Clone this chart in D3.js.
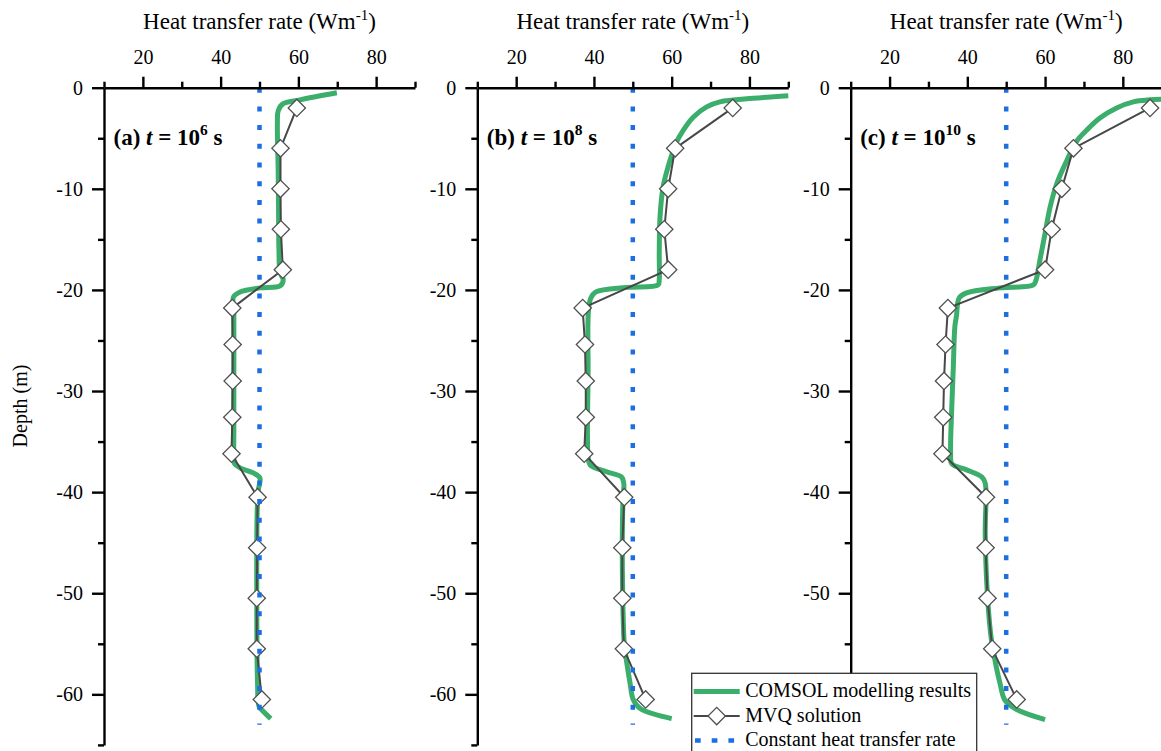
<!DOCTYPE html>
<html>
<head>
<meta charset="utf-8">
<script src="https://cdn.jsdelivr.net/npm/d3@7"></script>
<style>
  html, body { margin: 0; padding: 0; background: #fff; }
  svg { display: block; }
</style>
</head>
<body>
<svg id="chart" width="1161" height="751"></svg>
<script>
// ---- data ---------------------------------------------------------------
// Depth (m) of the MVQ segment midpoints (shared by all three panels)
const mvqDepth = [-2, -6, -10, -14, -18, -21.8, -25.4, -29, -32.6, -36.2, -40.5, -45.5, -50.5, -55.5, -60.5];
// MVQ heat transfer rate (W/m) at t = 1e6, 1e8, 1e10 s
const mvqA = [59.6, 55.4, 55.4, 55.5, 56.0, 43.0, 43.1, 43.1, 43.0, 42.8, 49.5, 49.4, 49.3, 49.3, 50.6];
const mvqB = [75.7, 60.9, 59.1, 58.1, 59.1, 37.1, 37.7, 37.9, 37.9, 37.5, 47.8, 47.3, 47.3, 47.7, 53.3];
const mvqC = [87.0, 67.3, 64.3, 61.7, 60.0, 35.0, 34.4, 34.0, 33.8, 33.6, 44.8, 44.7, 45.2, 46.4, 52.7];

// COMSOL profiles: depth (m) and heat transfer rate (W/m)
const comsolDepthA = [-0.5, -1.2, -1.6, -2.3, -3.5, -8, -12, -16, -18.3, -19.0, -19.6, -19.8, -20.2, -20.7, -22, -28, -34, -36.5, -37.2, -37.6, -38.1, -38.6, -39.8, -42, -50, -58.9, -61.2, -61.7, -62.4];
const comsolValueA = [69.9, 60.4, 56.0, 54.8, 54.6, 54.8, 54.9, 55.0, 55.3, 56.1, 55.3, 50.1, 45.0, 43.3, 43.4, 43.4, 43.4, 43.4, 43.6, 45.0, 48.4, 50.1, 49.7, 49.4, 49.3, 49.5, 49.9, 51.0, 52.9];

const comsolDepthB = [-0.8, -1.05, -1.4, -1.9, -2.9, -4.2, -5.5, -7.8, -9.8, -12.8, -16.4, -19.0, -19.5, -19.75, -20.2, -20.8, -22, -28, -36.5, -37.3, -38.0, -38.5, -39.2, -40.5, -45, -50, -55, -56.5, -58.9, -60.5, -61.4, -62.4];
const comsolValueB = [90, 81, 72.4, 69, 65.6, 63, 61.1, 59.1, 57.8, 57.0, 56.8, 56.8, 56.5, 48.4, 40.5, 39.2, 38.6, 38.5, 38.5, 39.0, 43.3, 47.1, 47.7, 47.5, 47.3, 47.4, 47.8, 48.3, 49.3, 50.1, 51.9, 60.0];

const comsolDepthC = [-1.15, -1.2, -1.4, -2.0, -3.0, -4.2, -5.3, -7.2, -9.5, -11.8, -14.4, -17.0, -19.0, -19.5, -19.8, -20.3, -20.8, -22.6, -23.6, -27.6, -31.6, -36.2, -37.2, -37.8, -38.5, -39.1, -44, -49, -54, -56.6, -58.9, -60.6, -61.5, -62.5];
const comsolValueC = [90, 87, 82.7, 78.4, 74.1, 70.7, 68.1, 65.6, 63.0, 61.3, 60.0, 58.7, 57.7, 57.0, 48.4, 39.8, 37.9, 37.2, 36.8, 36.4, 36.0, 35.7, 36.0, 39.8, 43.7, 44.6, 44.6, 45.0, 46.0, 47.1, 48.4, 49.7, 52.7, 60.0];

// Constant heat transfer rate assumption
const constantRate = 50;
const constantDepth = [0, -63];

// Panel captions: letter and log10 of time (s)
const panelLetters = ["(a)", "(b)", "(c)"];
const panelExponents = ["6", "8", "10"];

// Axis ticks
const xMajorTicks = [20, 40, 60, 80];
const xMinorTicks = [10, 30, 50, 70, 90];
const yMajorTicks = [0, -10, -20, -30, -40, -50, -60];
const yMinorTicks = [-5, -15, -25, -35, -45, -55, -65];

// ---- layout -------------------------------------------------------------
const FONT = '"Liberation Serif", "Times New Roman", Times, serif';
const GREEN = "#3bae6b";
const BLUE = "#1c6fe3";
const GREY = "#474747";

const panelLeft = [104, 477.3, 850.7];
const plotTop = 87.7;
const plotW = 311;
const plotH = 657.2;

// legend box (page coordinates)
const legendBox = { x: 691.7, y: 673.3, w: 285, h: 84 };

const svg = d3.select("#chart");

const x = d3.scaleLinear().domain([10, 90]).range([0, plotW]);
const y = d3.scaleLinear().domain([0, -65]).range([0, plotH]);

const panels = [
  { mvq: mvqA, depth: comsolDepthA, value: comsolValueA },
  { mvq: mvqB, depth: comsolDepthB, value: comsolValueB },
  { mvq: mvqC, depth: comsolDepthC, value: comsolValueC }
];

const comsolLine = d3.line()
  .x(d => x(d[0]))
  .y(d => y(d[1]))
  .curve(d3.curveCatmullRom.alpha(0.5));

const mvqLine = d3.line()
  .x(d => x(d[0]))
  .y(d => y(d[1]));

const diamond = d3.symbol().type(d3.symbolSquare).size(150);

panels.forEach((p, i) => {
  const g = svg.append("g").attr("transform", `translate(${panelLeft[i]},${plotTop})`);

  // COMSOL curve
  const comsolPts = p.depth.map((d, k) => [p.value[k], d]);
  g.append("path")
    .attr("d", comsolLine(comsolPts))
    .attr("fill", "none")
    .attr("stroke", GREEN)
    .attr("stroke-width", 5)
    .attr("stroke-linejoin", "round");

  // MVQ solution
  const mvqPts = mvqDepth.map((d, k) => [p.mvq[k], d]);
  g.append("path")
    .attr("d", mvqLine(mvqPts))
    .attr("fill", "none")
    .attr("stroke", GREY)
    .attr("stroke-width", 2);

  g.selectAll("path.marker")
    .data(mvqPts)
    .join("path")
    .attr("class", "marker")
    .attr("d", diamond)
    .attr("transform", d => `translate(${x(d[0])},${y(d[1])}) rotate(45)`)
    .attr("fill", "#fff")
    .attr("stroke", "#505050")
    .attr("stroke-width", 1.3);

  // constant heat transfer rate
  g.append("line")
    .attr("x1", x(constantRate)).attr("x2", x(constantRate))
    .attr("y1", y(constantDepth[0])).attr("y2", y(constantDepth[1]))
    .attr("stroke", BLUE)
    .attr("stroke-width", 4.5)
    .attr("stroke-dasharray", "5 13.7");

  // top x axis: minor then major ticks
  const xMinor = g.append("g").call(
    d3.axisTop(x).tickValues(xMinorTicks).tickSize(6).tickSizeOuter(0).tickFormat(""));
  const xMajor = g.append("g").call(
    d3.axisTop(x).tickValues(xMajorTicks).tickSize(11).tickSizeOuter(0).tickPadding(13)
      .tickFormat(d => String(d)));
  xMajor.select(".domain").remove();

  // left y axis
  const yMinor = g.append("g").call(
    d3.axisLeft(y).tickValues(yMinorTicks).tickSize(6).tickSizeOuter(0).tickFormat(""));
  const yMajor = g.append("g").call(
    d3.axisLeft(y).tickValues(yMajorTicks).tickSize(12).tickSizeOuter(0).tickPadding(9)
      .tickFormat(d => String(d)));
  yMajor.select(".domain").remove();

  [xMinor, xMajor, yMinor, yMajor].forEach(a => {
    a.selectAll(".domain, .tick line").attr("stroke", "#000").attr("stroke-width", 2.4);
    a.selectAll(".tick text")
      .attr("fill", "#000")
      .style("font-family", FONT)
      .style("font-size", "20px");
  });

  // tick labels that sit under the legend box are hidden by it
  yMajor.selectAll(".tick").each(function (d) {
    const ty = plotTop + y(d);
    const tx = panelLeft[i];
    if (tx > legendBox.x && tx - 40 < legendBox.x + legendBox.w && ty > legendBox.y) {
      d3.select(this).select("text").remove();
    }
  });

  // axis title
  const title = g.append("text")
    .attr("x", plotW / 2)
    .attr("y", 29.3 - plotTop)
    .attr("text-anchor", "middle")
    .style("font-family", FONT)
    .style("font-size", "23px")
    .attr("fill", "#000");
  title.append("tspan").text("Heat transfer rate (Wm");
  title.append("tspan").attr("dy", -9).style("font-size", "15px").text("-1");
  title.append("tspan").attr("dy", 9).text(")");

  // panel caption
  const cap = g.append("text")
    .attr("x", 9.5)
    .attr("y", 145 - plotTop)
    .style("font-family", FONT)
    .style("font-size", "23px")
    .style("font-weight", "bold")
    .attr("fill", "#000");
  cap.append("tspan").text(panelLetters[i] + " ");
  cap.append("tspan").style("font-style", "italic").text("t");
  cap.append("tspan").text(" = 10");
  cap.append("tspan").attr("dy", -10).style("font-size", "15.5px").text(panelExponents[i]);
  cap.append("tspan").attr("dy", 10).text(" s");
});

// y axis title
svg.append("text")
  .attr("transform", "translate(27,406) rotate(-90)")
  .attr("text-anchor", "middle")
  .style("font-family", FONT)
  .style("font-size", "20px")
  .attr("fill", "#000")
  .text("Depth (m)");

// ---- legend -------------------------------------------------------------
const legend = svg.append("g").attr("transform", `translate(${legendBox.x},${legendBox.y})`);
legend.append("rect")
  .attr("x", 0).attr("y", 0)
  .attr("width", legendBox.w).attr("height", legendBox.h)
  .attr("fill", "#fff")
  .attr("stroke", "#333")
  .attr("stroke-width", 1.3);

const legendItems = [
  { label: "COMSOL modelling results", kind: "comsol" },
  { label: "MVQ solution", kind: "mvq" },
  { label: "Constant heat transfer rate", kind: "const" }
];

legendItems.forEach((item, k) => {
  const row = legend.append("g").attr("transform", `translate(0,${18.3 + k * 24.5})`);
  if (item.kind === "comsol") {
    row.append("line").attr("x1", 2).attr("x2", 48).attr("y1", 0).attr("y2", 0)
      .attr("stroke", GREEN).attr("stroke-width", 5);
  } else if (item.kind === "mvq") {
    row.append("line").attr("x1", 2).attr("x2", 48).attr("y1", 0).attr("y2", 0)
      .attr("stroke", GREY).attr("stroke-width", 2);
    row.append("path").attr("d", diamond)
      .attr("transform", "translate(25,0) rotate(45)")
      .attr("fill", "#fff").attr("stroke", "#505050").attr("stroke-width", 1.3);
  } else {
    row.append("line").attr("x1", 3.3).attr("x2", 48).attr("y1", 0).attr("y2", 0)
      .attr("stroke", BLUE).attr("stroke-width", 4.5)
      .attr("stroke-dasharray", "5.7 11");
  }
  row.append("text")
    .attr("x", 53.5)
    .attr("y", 5.5)
    .style("font-family", FONT)
    .style("font-size", "20px")
    .attr("fill", "#000")
    .text(item.label);
});
</script>
</body>
</html>
